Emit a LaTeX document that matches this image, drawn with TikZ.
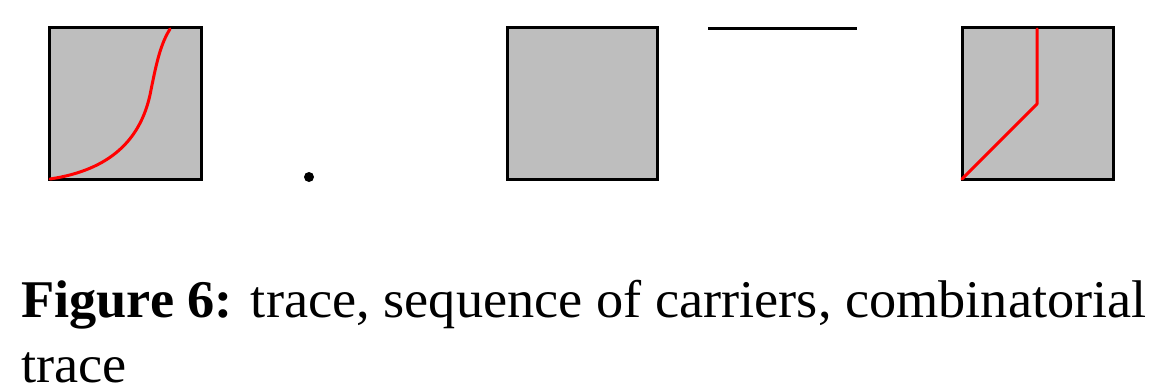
\documentclass[tikz,border=0pt]{standalone}
\usepackage{fontspec}
\setmainfont[FakeStretch=1.025]{Liberation Serif}
\definecolor{boxgray}{RGB}{190,190,190}
\begin{document}
\begin{tikzpicture}[x=1pt,y=-1pt,
  cell/.style={draw=black,fill=boxgray,line width=3pt},
  tracepath/.style={draw=red,line width=3pt,line cap=round,line join=round},
  edgeline/.style={draw=black,line width=3pt},
  captext/.style={inner sep=0pt,anchor=base west,font=\fontsize{53}{67}\selectfont}]
\useasboundingbox (0,0) rectangle (1157,386);
% first box with trace
\draw[cell] (49,27) rectangle (201,179);
\draw[tracepath] (50,179) .. controls (110,170) and (140,140) .. (150,95)
  .. controls (156,65) and (160,45) .. (170,29);
% vertex
\fill (309,177) circle (5);
% second box (carrier)
\draw[cell] (507,27) rectangle (657,179);
% edge
\draw[edgeline] (708,28) -- (857,28);
% third box with combinatorial trace
\draw[cell] (962,27) rectangle (1113,179);
\coordinate (c0) at (962,179);
\coordinate (c1) at (1037,104);
\coordinate (c2) at (1037,29);
\draw[tracepath] (c0) -- (c1) -- (c2);
% caption
\node[captext] (cap1) at (21,317) {\textbf{Figure 6:}\hspace{18pt}trace, sequence of carriers, combinatorial};
\node[captext] (cap2) at (21,382) {trace};
\end{tikzpicture}
\end{document}
